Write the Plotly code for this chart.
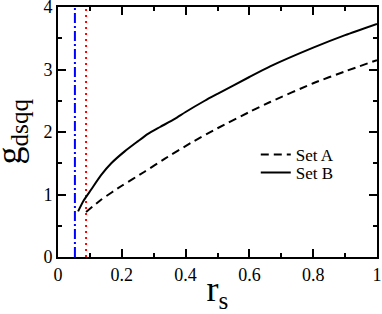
import plotly.graph_objects as go

# Data
setA_x = [0.088, 0.136, 0.2, 0.27, 0.334, 0.418, 0.5, 0.6, 0.665, 0.8, 0.9, 1.0]
setA_y = [0.72, 0.92, 1.14, 1.36, 1.57, 1.83, 2.06, 2.32, 2.48, 2.78, 2.97, 3.15]

setB_x = [0.063, 0.08, 0.104, 0.135, 0.167, 0.209, 0.25, 0.282, 0.32, 0.366, 0.4, 0.46, 0.5, 0.6, 0.665, 0.8, 0.9, 1.0]
setB_y = [0.73, 0.9, 1.08, 1.31, 1.5, 1.69, 1.85, 1.97, 2.08, 2.21, 2.32, 2.5, 2.61, 2.88, 3.05, 3.35, 3.55, 3.73]

vline_blue_x = 0.053
vline_red_x = 0.088
y_range = [0, 4]

x_tickvals = [0, 0.2, 0.4, 0.6, 0.8, 1.0]
x_ticktext = ["0", "0.2", "0.4", "0.6", "0.8", "1"]
y_tickvals = [0, 1, 2, 3, 4]
y_ticktext = ["0", "1", "2", "3", "4"]

FONT = "Liberation Serif"

fig = go.Figure()
fig.add_trace(go.Scatter(x=[vline_blue_x, vline_blue_x], y=y_range, mode="lines",
                         line=dict(color="#0000ff", width=2, dash="10px,3px,2px,3px"),
                         showlegend=False))
fig.add_trace(go.Scatter(x=[vline_red_x, vline_red_x], y=y_range, mode="lines",
                         line=dict(color="#ff0000", width=2, dash="2px,4px"),
                         showlegend=False))
fig.add_trace(go.Scatter(x=setA_x, y=setA_y, mode="lines", name="Set A", legend="legend",
                         line=dict(color="black", width=2, dash="8px,5px", shape="spline", smoothing=0.6)))
fig.add_trace(go.Scatter(x=setB_x, y=setB_y, mode="lines", name="Set B", legend="legend2",
                         line=dict(color="black", width=2, shape="spline", smoothing=0.6)))

axis_common = dict(showline=True, linecolor="black", linewidth=2, mirror="ticks",
                   ticks="inside", ticklen=8, tickwidth=2, tickcolor="black",
                   showgrid=False, zeroline=False, ticklabeloverflow="allow",
                   tickfont=dict(family=FONT, size=18, color="black"))

fig.update_xaxes(range=[0, 1], tickvals=x_tickvals, ticktext=x_ticktext,
                 minor=dict(ticks="inside", ticklen=4, tickwidth=2, tickcolor="black", dtick=0.1),
                 title=dict(text="r<sub>s</sub>", font=dict(family=FONT, size=36, color="black"),
                            standoff=0),
                 **axis_common)
fig.update_yaxes(range=[0, 4], tickvals=y_tickvals, ticktext=y_ticktext,
                 minor=dict(ticks="inside", ticklen=4, tickwidth=2, tickcolor="black", dtick=0.5),
                 **axis_common)

fig.add_annotation(text="g<sub>dsqq</sub>", textangle=-90, showarrow=False,
                   xref="paper", yref="paper", x=0, y=0.5, xanchor="right", yanchor="middle",
                   xshift=-23, font=dict(family=FONT, size=36, color="black"))

legend_common = dict(xanchor="left", yanchor="middle", bgcolor="rgba(0,0,0,0)",
                     itemwidth=30, font=dict(family=FONT, size=17, color="black"))

fig.update_layout(
    width=382, height=314,
    margin=dict(l=58, r=5, t=7, b=57, autoexpand=False),
    plot_bgcolor="white", paper_bgcolor="white",
    legend=dict(x=0.62, y=0.408, **legend_common),
    legend2=dict(x=0.62, y=0.336, **legend_common),
)

fig.write_html("out.html", config={"displayModeBar": False},
               post_script="document.body.style.margin='0px';")
